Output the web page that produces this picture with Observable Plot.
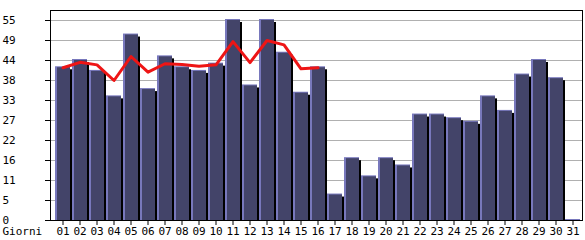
<!DOCTYPE html>
<html>
<head>
<meta charset="utf-8">
<script src="https://cdn.jsdelivr.net/npm/d3@7"></script>
<script src="https://cdn.jsdelivr.net/npm/@observablehq/plot@0.6"></script>
<style>
  html, body { margin: 0; padding: 0; background: #fff; }
</style>
</head>
<body>
<div id="chart"></div>
<script>
const days = ["01","02","03","04","05","06","07","08","09","10","11","12","13","14","15","16","17","18","19","20","21","22","23","24","25","26","27","28","29","30","31"];
const visits = [42,44,41,34,51,36,45,42,41,43,55,37,55,46,35,42,7,17,12,17,15,29,29,28,27,34,30,40,44,39,0];
const avgDays = ["01","02","03","04","05","06","07","08","09","10","11","12","13","14","15","16"];
const avgValues = [42,43.5,42.8,38.5,45.1,40.8,43.1,42.9,42.4,42.8,49.2,43.4,49.5,48.3,41.7,42];
const yTicks = [0,5.5,11,16.5,22,27.5,33,38.5,44,49.5,55];
const yTickLabels = ["0","5","11","16","22","27","33","38","44","49","55"];
const xTitle = "Giorni";

const bars = days.map((d, i) => ({day: d, v: visits[i]}));
const avg = avgDays.map((d, i) => ({day: d, v: avgValues[i]}));

const chart = Plot.plot({
  width: 585,
  height: 240,
  marginLeft: 50,
  marginRight: 3,
  marginTop: 10,
  marginBottom: 20,
  style: {fontFamily: "DejaVu Sans Mono", fontSize: "11px", color: "black", background: "white"},
  x: {type: "band", domain: days, range: [55, 582], padding: 0},
  y: {domain: [0, 57.75]},
  marks: [
    Plot.gridY(yTicks.slice(1), {stroke: "#b0b0b0", strokeOpacity: 1}),
    Plot.barY(bars, {x: "day", y: "v", fill: "black", insetLeft: 2, dy: 2, clip: "frame"}),
    Plot.barY(bars, {x: "day", y: "v", fill: "#7878bc", insetRight: 2, insetTop: -1}),
    Plot.barY(bars, {x: "day", y: "v", fill: "#434469", insetRight: 2, insetLeft: 2}),
    Plot.lineY(avg, {x: "day", y: "v", stroke: "#ee1515", strokeWidth: 3, dx: -1}),
    Plot.frame({stroke: "black"}),
    Plot.axisY({ticks: yTicks, tickSize: 5, text: null, label: null, stroke: "black"}),
    Plot.axisY({ticks: yTicks, tickFormat: d => yTickLabels[yTicks.indexOf(d)], tickSize: 0, tickPadding: 0, textAnchor: "start", dx: -48, label: null, fill: "black"}),
    Plot.axisX({tickSize: 5, tickPadding: 2, dx: -1, label: null, fill: "black"}),
    Plot.text([xTitle], {frameAnchor: "bottom-left", textAnchor: "start", lineAnchor: "top", dx: -48, dy: 7, fill: "black"})
  ]
});
document.getElementById("chart").appendChild(chart);
</script>
</body>
</html>
